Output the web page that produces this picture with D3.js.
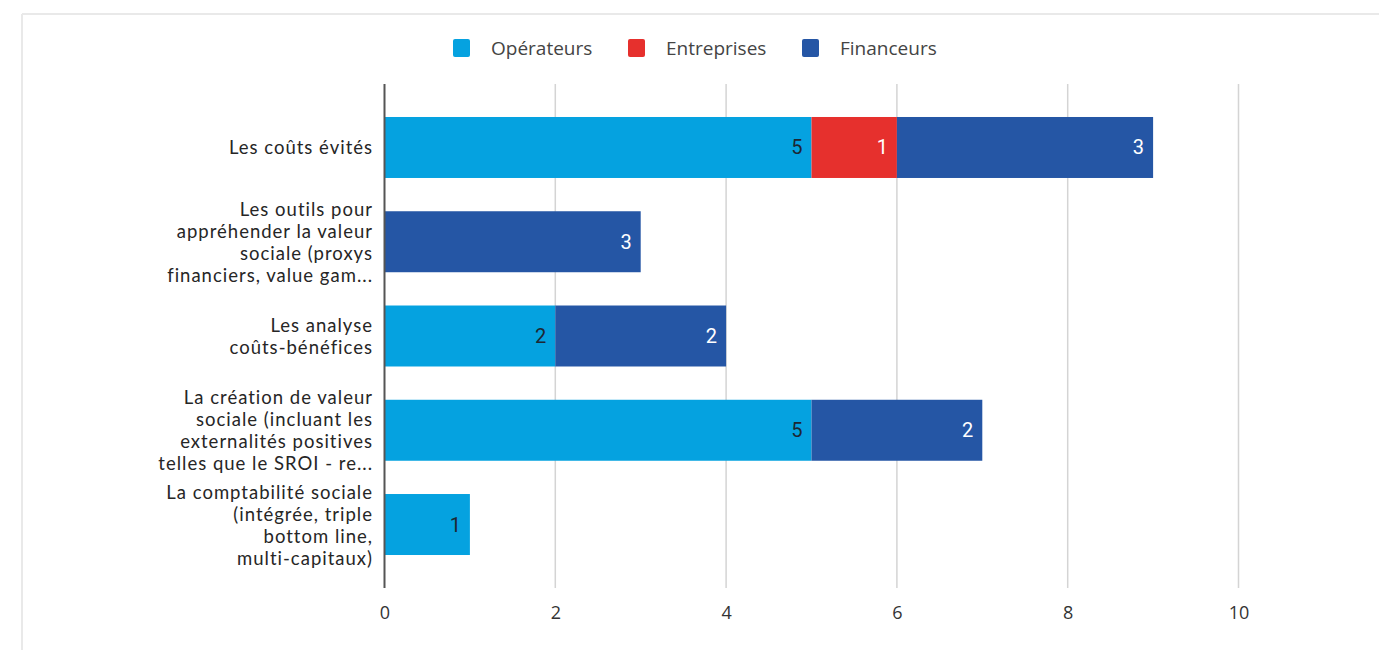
<!DOCTYPE html>
<html>
<head>
<meta charset="utf-8">
<script src="https://cdn.jsdelivr.net/npm/d3@7"></script>
<style>
  html, body { margin: 0; padding: 0; background: #fff; }
  svg { display: block; }
</style>
</head>
<body>
<svg id="chart" width="1379" height="650"></svg>
<script>
// Categories, one label line per array entry
const categories = [
  ["Les coûts évités"],
  ["Les outils pour", "appréhender la valeur", "sociale (proxys", "financiers, value gam..."],
  ["Les analyse", "coûts-bénéfices"],
  ["La création de valeur", "sociale (incluant les", "externalités positives", "telles que le SROI - re..."],
  ["La comptabilité sociale", "(intégrée, triple", "bottom line,", "multi-capitaux)"]
];
const seriesNames = ["Opérateurs", "Entreprises", "Financeurs"];
const operateurs  = [5, 0, 2, 5, 1];
const entreprises = [1, 0, 0, 0, 0];
const financeurs  = [3, 3, 2, 2, 0];
const xTicks = [0, 2, 4, 6, 8, 10];
const colors = ["#05a2e0", "#e6302d", "#2556a5"];
const labelColors = ["#1d2733", "#ffffff", "#ffffff"];

const svg = d3.select("#chart");

// light frame around the chart area
svg.append("line").attr("x1", 22).attr("x2", 1379).attr("y1", 14).attr("y2", 14)
  .attr("stroke", "#e9e9e9").attr("stroke-width", 2);
svg.append("line").attr("x1", 22).attr("x2", 22).attr("y1", 14).attr("y2", 650)
  .attr("stroke", "#e9e9e9").attr("stroke-width", 2);

const x = d3.scaleLinear().domain([0, 10]).range([384.5, 1238.5]);
const y = d3.scaleBand().domain(d3.range(categories.length))
  .range([84, 588]).paddingInner(0.353).paddingOuter(0.35);

// vertical grid
const g = svg.append("g");
g.selectAll("line.grid").data(xTicks.filter(t => t !== 0)).join("line")
  .attr("class", "grid")
  .attr("x1", d => x(d)).attr("x2", d => x(d))
  .attr("y1", 84).attr("y2", 588)
  .attr("stroke", "#d4d4d4").attr("stroke-width", 1.5);

// x tick labels
const xAxis = d3.axisBottom(x).tickValues(xTicks).tickSize(0).tickPadding(0);
const ax = svg.append("g").attr("transform", "translate(0,612)").call(xAxis);
ax.select(".domain").remove();
ax.selectAll("text")
  .attr("font-family", "'Open Sans', sans-serif")
  .attr("font-size", 18).attr("fill", "#333").attr("dy", null)
  .attr("dominant-baseline", "central");

// stacked series
const table = categories.map((c, i) => ({ i, s0: operateurs[i], s1: entreprises[i], s2: financeurs[i] }));
const stack = d3.stack().keys(["s0", "s1", "s2"]);
const layers = stack(table);

layers.forEach((layer, k) => {
  const grp = svg.append("g");
  layer.forEach((seg, i) => {
    const v = seg[1] - seg[0];
    if (v <= 0) return;
    const x0 = x(seg[0]), x1 = x(seg[1]);
    grp.append("rect")
      .attr("x", x0).attr("y", y(i))
      .attr("width", x1 - x0).attr("height", y.bandwidth())
      .attr("fill", colors[k]);
    grp.append("text")
      .attr("x", x1 - 9).attr("y", y(i) + y.bandwidth() / 2)
      .attr("text-anchor", "end").attr("dominant-baseline", "central")
      .attr("font-family", "Roboto, sans-serif").attr("font-size", 20)
      .attr("fill", labelColors[k])
      .text(v);
  });
});

// y axis line
svg.append("line").attr("x1", 384.5).attr("x2", 384.5).attr("y1", 84).attr("y2", 588)
  .attr("stroke", "#555").attr("stroke-width", 2);

// category labels
const lineH = 22;
categories.forEach((lines, i) => {
  const cy = y(i) + y.bandwidth() / 2;
  const t = svg.append("text")
    .attr("text-anchor", "end")
    .attr("font-family", "Lato, sans-serif")
    .attr("font-size", 18.5).attr("letter-spacing", 1)
    .attr("fill", "#262626");
  lines.forEach((ln, j) => {
    t.append("tspan")
      .attr("x", 373)
      .attr("y", cy + (j - (lines.length - 1) / 2) * lineH)
      .attr("dominant-baseline", "central")
      .text(ln);
  });
});

// legend
const legendX = [453, 628, 802];
const leg = svg.append("g");
seriesNames.forEach((name, k) => {
  leg.append("rect").attr("x", legendX[k]).attr("y", 39).attr("width", 17).attr("height", 18)
    .attr("rx", 2).attr("fill", colors[k]);
  leg.append("text").attr("x", legendX[k] + 38).attr("y", 48)
    .attr("dominant-baseline", "central")
    .attr("font-family", "'Open Sans', sans-serif").attr("font-size", 19)
    .attr("fill", "#444").text(name);
});
</script>
</body>
</html>
